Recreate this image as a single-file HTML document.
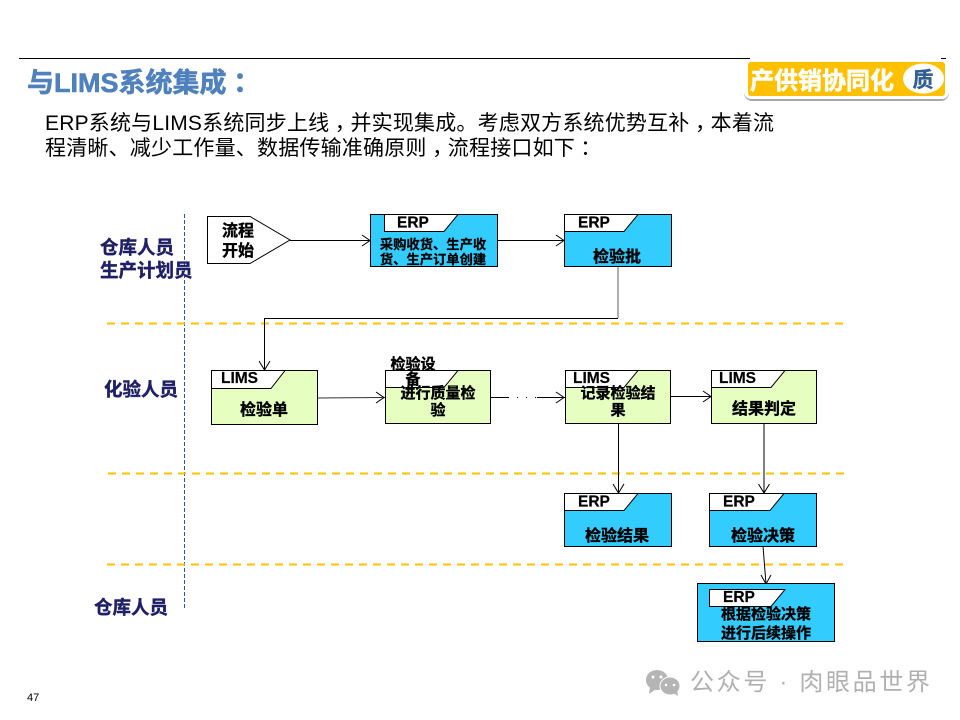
<!DOCTYPE html>
<html><head><meta charset="utf-8"><style>
html,body{margin:0;padding:0;background:#fff}
svg{display:block}
text{font-family:"Liberation Sans","Noto Sans CJK SC",sans-serif}
.tc{font-family:"Noto Sans CJK TC",sans-serif}
.b{font-weight:700;fill:#000;font-size:16px;text-anchor:middle;stroke:#000;stroke-width:.35px}
.s15{font-size:15px}
.s13{font-size:13.3px;stroke-width:.25px}
.t{font-weight:700;fill:#000;font-size:15.5px;stroke:#000;stroke-width:.2px}
.r{font-weight:700;fill:#1f1f66;font-size:18.5px;stroke:#1f1f66;stroke-width:.4px}
</style></head><body>
<svg width="960" height="720" viewBox="0 0 960 720" xmlns="http://www.w3.org/2000/svg">
<line x1="19" y1="58.5" x2="750" y2="58.5" stroke="#000" stroke-width="1"/>
<line x1="941" y1="58.5" x2="946" y2="58.5" stroke="#000" stroke-width="1"/>
<text x="27" y="92" font-size="27" font-weight="700" fill="#4f81bd" stroke="#4f81bd" stroke-width=".6">与LIMS系统集成<tspan class="tc" dy="1">：</tspan></text>
<text x="45" y="130" font-size="21" fill="#000" textLength="729">ERP系统与LIMS系统同步上线<tspan class="tc" dy="6">，</tspan><tspan dy="-6">并实现集成。考虑双方系统优势互补</tspan><tspan class="tc" dy="6">，</tspan><tspan dy="-6">本着流</tspan></text>
<text x="45" y="155" font-size="21" fill="#000" textLength="551">程清晰、减少工作量、数据传输准确原则<tspan class="tc" dy="6">，</tspan><tspan dy="-6">流程接口如下</tspan><tspan class="tc" dy="1">：</tspan></text>

<rect x="744" y="64" width="205" height="37" rx="8" fill="#a8a8a8"/>
<rect x="744" y="59" width="205" height="40" rx="7" fill="#fff"/>
<rect x="748" y="62" width="197" height="34" rx="3" fill="#ffc000"/>
<ellipse cx="923.5" cy="78.5" rx="20.5" ry="15" fill="#fff"/>
<text x="750" y="89" font-size="24" font-weight="700" fill="#fff" stroke="#fff" stroke-width=".6" textLength="144">产供销协同化</text>
<text x="923" y="87" font-size="21" font-weight="700" fill="#2f5d94" stroke="#2f5d94" stroke-width=".3" text-anchor="middle">质</text>

<line x1="184.5" y1="214" x2="184.5" y2="608" stroke="#1f5a96" stroke-width="1" stroke-dasharray="4 2"/>
<g stroke="#ffc000" stroke-width="2" stroke-dasharray="8 6" fill="none">
<line x1="107" y1="323.5" x2="845" y2="323.5"/>
<line x1="108" y1="473.5" x2="845" y2="473.5"/>
<line x1="107" y1="564.5" x2="845" y2="564.5"/>
</g>

<text class="r" x="100" y="254">仓库人员</text>
<text class="r" x="100" y="277">生产计划员</text>
<text class="r" x="104" y="396">化验人员</text>
<text class="r" x="94" y="614">仓库人员</text>

<!-- connectors -->
<g stroke="#000" stroke-width="1" fill="none">
<line x1="290" y1="240.5" x2="370" y2="240.5"/><polyline points="362,235 370,240.5 362,246"/>
<line x1="497" y1="240.5" x2="564" y2="240.5"/><polyline points="556,235 564,240.5 556,246"/>
<polyline points="618,318.5 264.5,318.5 264.5,370"/><polyline points="259,361 264.5,370 270,361"/>
<line x1="317" y1="398" x2="385" y2="397.5" stroke="#333"/><polyline points="376,392 384,397.5 376,403"/>
<line x1="490" y1="397.5" x2="565" y2="397.5"/><polyline points="556,392 564,397.5 556,403"/>
<line x1="670" y1="396.5" x2="711" y2="396.5"/><polyline points="703,391 711,396.5 703,402"/>
<line x1="618.5" y1="424" x2="618.5" y2="493"/><polyline points="613,484 618.5,493 624,484"/>
<line x1="764" y1="424" x2="764" y2="493"/><polyline points="758.5,484 764,493 769.5,484"/>
<line x1="763" y1="546" x2="766" y2="584"/><polyline points="761,575 766,584 771,575"/>
</g>
<line x1="509" y1="397.5" x2="537" y2="397.5" stroke="#fff" stroke-width="2" stroke-dasharray="8 1"/>

<!-- start -->
<polygon points="207.5,216.5 250,216.5 290,240 250,263.5 207.5,263.5" fill="#fff" stroke="#000" stroke-width="1"/>
<text class="b" x="238" y="236">流程</text>
<text class="b" x="238" y="256">开始</text>

<!-- ERP 1 -->
<rect x="370.5" y="214.5" width="127" height="52" fill="#33ccff" stroke="#000"/>
<polygon points="384.5,214.5 458,214.5 444,231.5 384.5,231.5" fill="#fff" stroke="#000"/>
<text class="t" x="397" y="227.5">ERP</text>
<text class="b s13" x="433" y="249">采购收货、生产收</text>
<text class="b s13" x="433" y="264">货、生产订单创建</text>

<!-- ERP 2 -->
<rect x="564.5" y="214.5" width="107" height="52" fill="#33ccff" stroke="#000"/>
<polygon points="564.5,214.5 638,214.5 624,231.5 564.5,231.5" fill="#fff" stroke="#000"/>
<text class="t" x="578" y="227.5">ERP</text>
<text class="b" x="617" y="262">检验批</text>
<line x1="618" y1="267" x2="618" y2="318" stroke="#777" stroke-width="1.2"/>

<!-- LIMS 1 -->
<rect x="211.5" y="370.5" width="106" height="54" fill="#e6ffc0" stroke="#000"/>
<polygon points="211.5,370.5 285,370.5 271,388.5 211.5,388.5" fill="#fff" stroke="#000"/>
<text class="t" x="221" y="383">LIMS</text>
<text class="b" x="264" y="415">检验单</text>

<!-- LIMS 2 -->
<rect x="385.5" y="370.5" width="105" height="53" fill="#e6ffc0" stroke="#000"/>
<polygon points="385.5,370.5 458,370.5 444,387.5 385.5,387.5" fill="#fff" stroke="#000"/>
<text class="b s15" x="413" y="369">检验设</text>
<text class="b s15" x="413" y="384">备</text>
<text class="b s15" x="438" y="398">进行质量检</text>
<text class="b s15" x="438" y="415">验</text>

<!-- LIMS 3 -->
<rect x="565.5" y="370.5" width="105" height="53" fill="#e6ffc0" stroke="#000"/>
<polygon points="565.5,370.5 638,370.5 624,387.5 565.5,387.5" fill="#fff" stroke="#000"/>
<text class="t" x="573" y="383">LIMS</text>
<text class="b s15" x="618" y="398">记录检验结</text>
<text class="b s15" x="618" y="415">果</text>

<!-- LIMS 4 -->
<rect x="711.5" y="370.5" width="105" height="53" fill="#e6ffc0" stroke="#000"/>
<polygon points="711.5,370.5 785,370.5 771,387.5 711.5,387.5" fill="#fff" stroke="#000"/>
<text class="t" x="719" y="383">LIMS</text>
<text class="b" x="764" y="414">结果判定</text>

<!-- ERP results -->
<rect x="564.5" y="493.5" width="107" height="53" fill="#33ccff" stroke="#000"/>
<polygon points="564.5,493.5 638,493.5 624,510.5 564.5,510.5" fill="#fff" stroke="#000"/>
<text class="t" x="578" y="506.5">ERP</text>
<text class="b" x="617" y="541">检验结果</text>

<rect x="709.5" y="493.5" width="107" height="53" fill="#33ccff" stroke="#000"/>
<polygon points="709.5,493.5 784,493.5 770,510.5 709.5,510.5" fill="#fff" stroke="#000"/>
<text class="t" x="723" y="506.5">ERP</text>
<text class="b" x="763" y="541">检验决策</text>

<rect x="697.5" y="583.5" width="137" height="58" fill="#33ccff" stroke="#000"/>
<polygon points="709.5,589.5 785,589.5 771,606.5 709.5,606.5" fill="#fff" stroke="#000"/>
<text class="t" x="723" y="602">ERP</text>
<text class="b s15" x="766" y="619">根据检验决策</text>
<text class="b s15" x="766" y="638">进行后续操作</text>

<text x="27" y="701" font-size="11" fill="#000">47</text>

<!-- watermark -->
<ellipse cx="657" cy="680" rx="11" ry="10" fill="#b5b5b5"/>
<polygon points="650,687 649,694 656,689" fill="#b5b5b5"/>
<ellipse cx="670" cy="686" rx="10" ry="9" fill="#b5b5b5" stroke="#fff" stroke-width="1"/>
<polygon points="673,693 678,696 677,690" fill="#b5b5b5"/>
<circle cx="653" cy="677" r="1.5" fill="#fff"/><circle cx="661" cy="677" r="1.5" fill="#fff"/>
<circle cx="666" cy="685" r="1.3" fill="#fff"/><circle cx="674" cy="685" r="1.3" fill="#fff"/>
<text x="690" y="690" font-size="24" fill="#b0b0b0" textLength="240">公众号 · 肉眼品世界</text>
</svg>
</body></html>
